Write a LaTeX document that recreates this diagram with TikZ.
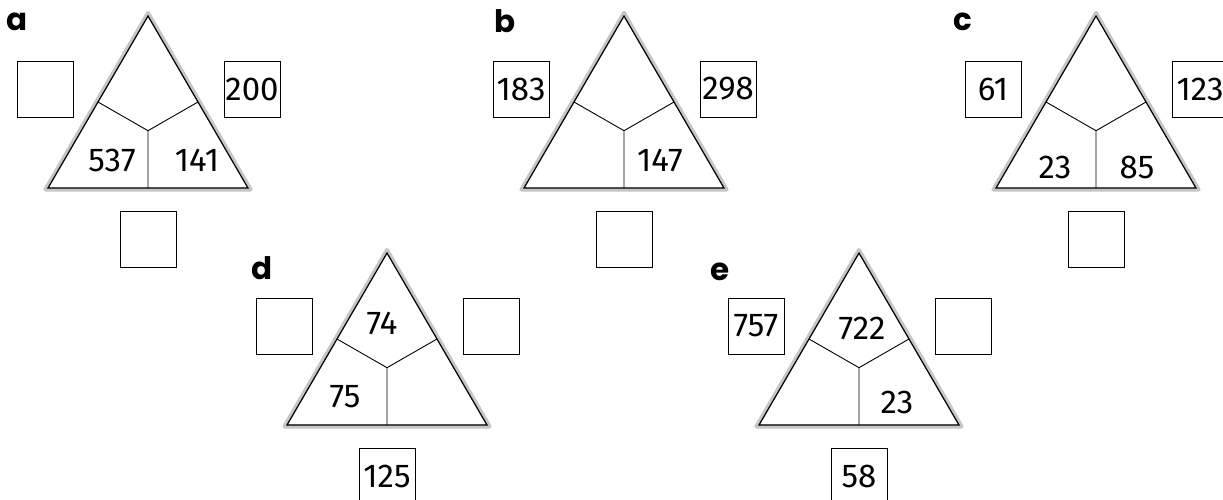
\documentclass[tikz,border=0pt]{standalone}
\usepackage{fontspec}
\setmainfont{Fira Sans}
\newfontfamily\lblfont{Poppins}
\usetikzlibrary{calc}
\newcommand{\drawtri}[6]{%
  \coordinate (#1-t) at (#2,#3);
  \coordinate (#1-l) at ({#2-100},{#3+172});
  \coordinate (#1-r) at ({#2+100},{#3+172});
  \coordinate (#1-c) at ({#2},{#3+114.7});
  \coordinate (#1-mb) at ({#2},{#3+172});
  \coordinate (#1-ml) at ($(#1-t)!0.5!(#1-l)$);
  \coordinate (#1-mr) at ($(#1-t)!0.5!(#1-r)$);
  \coordinate (#1-ht) at (#2,{#3-3});
  \coordinate (#1-hl) at ({#2-102.6},{#3+173.5});
  \coordinate (#1-hr) at ({#2+102.6},{#3+173.5});
  \draw[halo] (#1-ht) -- (#1-hl) -- (#1-hr) -- cycle;
  \draw[triline] (#1-t) -- (#1-l) -- (#1-r) -- cycle;
  \draw[divline] (#1-ml) -- (#1-c) -- (#1-mr) (#1-c) -- (#1-mb);
  \node[numbox] (#1-bl) at ({#2-103},{#3+73}) {#4};
  \node[numbox] (#1-br) at ({#2+104},{#3+73}) {#5};
  \node[numbox] (#1-bb) at ({#2},{#3+223.5}) {#6};
}
\begin{document}
\begin{tikzpicture}[x=1pt,y=-1pt,
  halo/.style={draw=gray!45, line width=4pt, line join=round},
  triline/.style={draw=black, line width=1.2pt, line join=miter},
  divline/.style={draw=black, line width=0.9pt},
  numbox/.style={draw, line width=0.9pt, minimum size=56pt, inner sep=0pt, font=\fontsize{33}{34}\selectfont},
  num/.style={inner sep=0pt, font=\fontsize{33}{34}\selectfont},
  lbl/.style={inner sep=0pt, font=\lblfont\bfseries\fontsize{31}{32}\selectfont}]
\useasboundingbox (0,0) rectangle (1223,500);
\fill[white] (0,0) rectangle (1223,500);
% a
\drawtri{a}{148}{16}{}{200}{}
\node[num] (a-n1) at (112,160) {537};
\node[num] (a-n2) at (197,160) {141};
\node[lbl] (la) at (17,22) {a};
% b
\drawtri{b}{624}{16}{183}{298}{}
\node[num] (b-n1) at (660,160) {147};
\node[lbl] (lb) at (505,21) {b};
% c
\drawtri{c}{1096}{16}{61}{123}{}
\node[num] (c-n1) at (1055,167) {23};
\node[num] (c-n2) at (1137,167) {85};
\node[lbl] (lc) at (963,22) {c};
% d
\drawtri{d}{387}{253}{}{}{125}
\node[num] (d-n1) at (382,323) {74};
\node[num] (d-n2) at (345,397) {75};
\node[lbl] (ld) at (262,268) {d};
% e
\drawtri{e}{859}{253}{757}{}{58}
\node[num] (e-n1) at (862,328) {722};
\node[num] (e-n2) at (897,402) {23};
\node[lbl] (le) at (720,272) {e};
\end{tikzpicture}
\end{document}
